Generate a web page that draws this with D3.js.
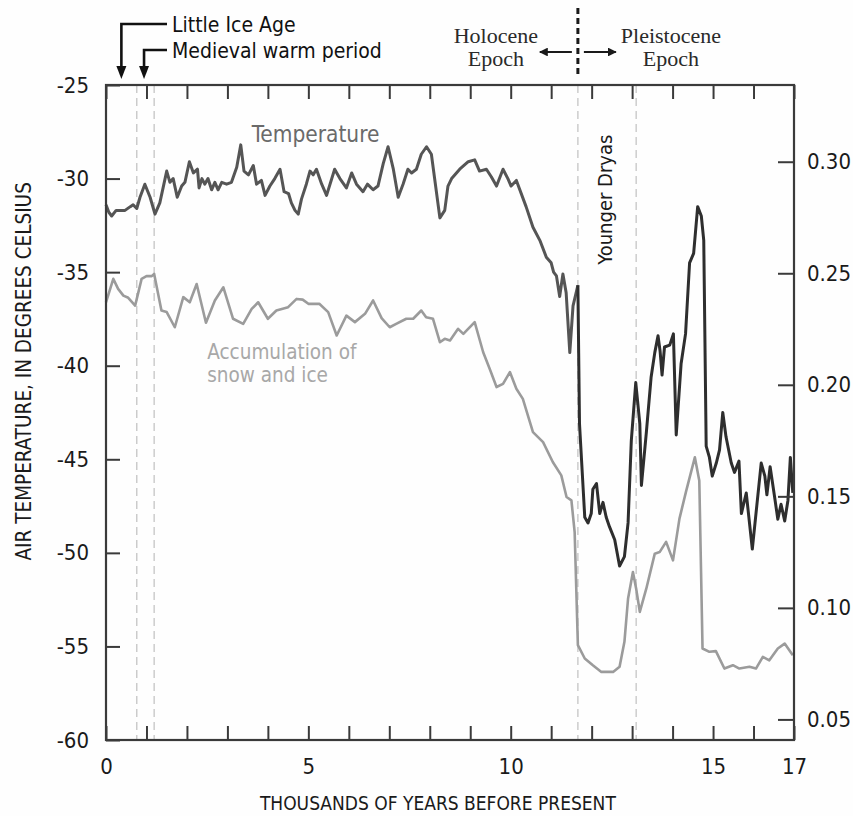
<!DOCTYPE html>
<html>
<head>
<meta charset="utf-8">
<script src="https://cdn.jsdelivr.net/npm/d3@7"></script>
<style>
  html, body { margin: 0; padding: 0; background: #ffffff; }
  svg { display: block; }
  .cond { font-family: "Liberation Sans Narrow", "Arial Narrow", "DejaVu Sans Condensed", sans-serif; }
  .serif { font-family: "Liberation Serif", "Times New Roman", serif; }
</style>
</head>
<body>
<svg id="chart" width="853" height="816"></svg>
<script>
// ---------------- DATA ----------------
// Temperature record (thousands of years before present, °C)
const tempAge = [0.00,0.07,0.14,0.25,0.47,0.60,0.67,0.76,0.84,0.96,1.09,1.21,1.33,1.50,1.58,1.66,1.76,1.87,1.95,2.06,2.16,2.26,2.30,2.37,2.44,2.52,2.61,2.69,2.77,2.86,2.98,3.10,3.23,3.33,3.41,3.52,3.64,3.72,3.84,3.93,4.05,4.17,4.30,4.40,4.51,4.58,4.67,4.75,4.83,4.95,5.04,5.12,5.20,5.33,5.45,5.65,5.78,5.94,6.07,6.19,6.35,6.46,6.60,6.72,6.85,6.97,7.10,7.22,7.34,7.46,7.55,7.67,7.79,7.92,8.04,8.12,8.25,8.37,8.45,8.54,8.74,8.95,9.11,9.23,9.40,9.52,9.65,9.81,9.93,10.01,10.14,10.38,10.55,10.72,10.88,11.00,11.06,11.13,11.21,11.29,11.37,11.46,11.54,11.66,11.70,11.83,11.91,11.99,12.03,12.12,12.20,12.28,12.36,12.44,12.57,12.69,12.81,12.90,12.98,13.09,13.19,13.23,13.35,13.47,13.56,13.64,13.69,13.74,13.80,13.93,14.02,14.09,14.21,14.32,14.42,14.52,14.62,14.71,14.77,14.83,14.91,14.98,15.08,15.16,15.24,15.32,15.45,15.53,15.64,15.70,15.82,15.97,16.07,16.19,16.28,16.33,16.41,16.52,16.60,16.68,16.77,16.85,16.91,16.97];
const tempValue = [-31.4,-31.8,-32.0,-31.7,-31.7,-31.5,-31.4,-31.6,-31.0,-30.3,-31.0,-31.9,-31.3,-29.6,-30.2,-30.0,-31.0,-30.4,-30.2,-29.1,-29.7,-29.5,-30.5,-30.0,-30.3,-30.0,-30.6,-30.2,-30.6,-30.2,-30.3,-30.2,-29.4,-28.2,-29.6,-29.8,-29.3,-30.3,-30.1,-30.9,-30.4,-30.0,-29.5,-30.7,-30.8,-31.3,-31.7,-31.9,-31.1,-30.3,-29.6,-29.8,-29.5,-30.3,-30.9,-29.5,-30.0,-30.5,-29.7,-30.3,-30.7,-30.3,-30.6,-30.4,-29.2,-28.3,-29.5,-31.0,-30.3,-29.5,-29.7,-29.5,-28.7,-28.3,-28.7,-30.0,-32.1,-31.7,-30.4,-30.0,-29.5,-29.1,-29.0,-29.6,-29.5,-29.9,-30.4,-29.5,-30.0,-30.4,-30.1,-31.5,-32.6,-33.3,-34.2,-34.5,-35.0,-35.2,-36.3,-35.1,-36.1,-39.3,-36.8,-35.7,-43.1,-48.1,-48.4,-47.9,-46.6,-46.3,-47.9,-47.3,-48.1,-48.6,-49.3,-50.7,-50.2,-48.4,-44.0,-40.9,-43.1,-46.4,-43.6,-40.6,-39.3,-38.4,-39.2,-40.5,-39.0,-38.9,-38.3,-43.7,-39.9,-38.3,-34.5,-34.0,-31.5,-32.0,-33.3,-44.3,-44.9,-45.9,-45.2,-44.5,-42.5,-43.8,-45.2,-45.7,-45.1,-47.9,-46.8,-49.8,-47.7,-45.2,-45.9,-46.9,-45.4,-47.0,-48.2,-47.4,-48.3,-47.2,-44.9,-46.8];

// Snow and ice accumulation record (right axis)
const accumAge = [0.00,0.18,0.30,0.43,0.55,0.72,0.88,1.00,1.13,1.19,1.37,1.50,1.70,1.91,2.07,2.24,2.47,2.69,2.90,3.14,3.39,3.60,3.76,4.00,4.21,4.50,4.71,4.86,5.00,5.27,5.49,5.70,5.94,6.15,6.40,6.60,6.81,7.01,7.17,7.42,7.59,7.79,7.91,8.08,8.25,8.37,8.50,8.70,8.83,9.11,9.32,9.48,9.65,9.81,9.98,10.14,10.30,10.55,10.80,11.04,11.25,11.38,11.50,11.58,11.66,11.83,12.03,12.24,12.53,12.69,12.81,12.90,13.02,13.10,13.19,13.35,13.56,13.68,13.84,14.01,14.17,14.33,14.55,14.66,14.74,14.91,15.07,15.28,15.49,15.65,15.90,16.06,16.23,16.39,16.60,16.77,16.97];
const accumValue = [0.237,0.2475,0.243,0.240,0.239,0.2355,0.2475,0.2487,0.2487,0.2497,0.2333,0.2326,0.2258,0.2393,0.237,0.2452,0.2278,0.2378,0.2437,0.2296,0.2273,0.234,0.237,0.2296,0.2333,0.2348,0.2385,0.2382,0.2363,0.2363,0.2326,0.2221,0.231,0.2281,0.2318,0.2378,0.2299,0.2258,0.2273,0.2296,0.2296,0.2333,0.2303,0.2296,0.2191,0.2206,0.2199,0.2251,0.2228,0.2281,0.2146,0.2072,0.199,0.2004,0.2057,0.1982,0.1937,0.1788,0.1743,0.1654,0.1594,0.1497,0.1482,0.134,0.0833,0.0773,0.0743,0.0713,0.0713,0.0736,0.0848,0.1042,0.1161,0.1086,0.0982,0.1086,0.1243,0.125,0.1296,0.1213,0.140,0.152,0.1675,0.157,0.0818,0.0803,0.0806,0.0728,0.0743,0.0728,0.0736,0.0728,0.078,0.0765,0.0818,0.084,0.0788];

// Axis ticks / labels
const xTicks = [0,1,2,3,4,5,6,7,8,9,10,11,12,13,14,15,16,17];
const xLabelTicks = [0,5,10,15,17];
const leftTicks = [-25,-30,-35,-40,-45,-50,-55,-60];
const rightTicks = [0.05,0.10,0.15,0.20,0.25,0.30];

// Event markers (ages, thousands of years)
const markerAges = [0.76, 1.19, 11.66, 13.10];
const epochBoundary = 11.66;
const annotations = [
  { label: "Little Ice Age", age: 0.38 },
  { label: "Medieval warm period", age: 0.94 }
];

// ---------------- LAYOUT ----------------
const margin = { left: 106, top: 85 };
const W = 688, H = 655;
const svg = d3.select("#chart");
svg.append("rect").attr("width", 853).attr("height", 816).attr("fill", "#fefefe");
const g = svg.append("g").attr("transform", `translate(${margin.left},${margin.top})`);

const x = d3.scaleLinear().domain([0, 17]).range([0, W]);
const yL = d3.scaleLinear().domain([-60, -25]).range([H, 0]);
const yR = d3.scaleLinear().domain([0.05, 0.30]).range([yL(-58.9), yL(-29.1)]);

// dashed event markers
g.selectAll("line.marker").data(markerAges).join("line")
  .attr("class", "marker")
  .attr("x1", d => x(d)).attr("x2", d => x(d))
  .attr("y1", 0).attr("y2", H)
  .attr("stroke", "#c9c9c9").attr("stroke-width", 1.4)
  .attr("stroke-dasharray", "8,5");

// accumulation line
const accumData = accumAge.map((a, i) => ({ a, v: accumValue[i] }));
g.append("path").datum(accumData)
  .attr("fill", "none").attr("stroke", "#9b9b9b").attr("stroke-width", 2.6)
  .attr("stroke-linejoin", "round")
  .attr("d", d3.line().x(d => x(d.a)).y(d => yR(d.v)));

// temperature line (two tones: Holocene lighter, Pleistocene darker)
const tempData = tempAge.map((a, i) => ({ a, v: tempValue[i] }));
const tLine = d3.line().x(d => x(d.a)).y(d => yL(d.v));
g.append("path").datum(tempData.filter(d => d.a <= epochBoundary))
  .attr("fill", "none").attr("stroke", "#555555").attr("stroke-width", 3)
  .attr("stroke-linejoin", "round").attr("d", tLine);
g.append("path").datum(tempData.filter(d => d.a >= epochBoundary))
  .attr("fill", "none").attr("stroke", "#2e2e2e").attr("stroke-width", 3)
  .attr("stroke-linejoin", "round").attr("d", tLine);

// frame
g.append("rect").attr("width", W).attr("height", H)
  .attr("fill", "none").attr("stroke", "#3a3a3a").attr("stroke-width", 2.2);

function styleAxis(sel) {
  sel.select(".domain").remove();
  sel.selectAll(".tick line").attr("stroke", "#3a3a3a").attr("stroke-width", 2);
  sel.selectAll("text").attr("class", "cond").attr("fill", "#1a1a1a");
}

// bottom axis
g.append("g").attr("transform", `translate(0,${H})`)
  .call(d3.axisBottom(x).tickValues(xTicks).tickSizeInner(-14).tickSizeOuter(0).tickPadding(18)
    .tickFormat(d => xLabelTicks.includes(d) ? String(d) : ""))
  .call(styleAxis)
  .call(s => s.selectAll("text").attr("font-size", 22));

// top axis
g.append("g")
  .call(d3.axisTop(x).tickValues(xTicks).tickSizeInner(-14).tickSizeOuter(0).tickFormat(""))
  .call(styleAxis);

// left axis
g.append("g")
  .call(d3.axisLeft(yL).tickValues(leftTicks).tickSizeInner(-14).tickSizeOuter(0).tickPadding(17)
    .tickFormat(d => String(d)))
  .call(styleAxis)
  .call(s => s.selectAll("text").attr("font-size", 22));

// right axis
g.append("g").attr("transform", `translate(${W},0)`)
  .call(d3.axisRight(yR).tickValues(rightTicks).tickSizeInner(-16).tickSizeOuter(0).tickPadding(13)
    .tickFormat(d => d.toFixed(2)))
  .call(styleAxis)
  .call(s => s.selectAll("text").attr("font-size", 22));

// axis titles
svg.append("text").attr("class", "cond")
  .attr("x", margin.left + x(8.2)).attr("y", 810)
  .attr("text-anchor", "middle").attr("font-size", 19).attr("fill", "#1a1a1a")
  .text("THOUSANDS OF YEARS BEFORE PRESENT");

svg.append("text").attr("class", "cond")
  .attr("transform", `translate(31,${margin.top + yL(-40.3)}) rotate(-90)`)
  .attr("text-anchor", "middle").attr("font-size", 20.5).attr("fill", "#1a1a1a")
  .text("AIR TEMPERATURE, IN DEGREES CELSIUS");

// series labels
g.append("text").attr("class", "cond")
  .attr("x", x(3.6)).attr("y", yL(-28.05))
  .attr("font-size", 22.5).attr("fill", "#6a6a6a").text("Temperature");
g.append("text").attr("class", "cond")
  .attr("x", x(2.5)).attr("y", yL(-39.65))
  .attr("font-size", 20.5).attr("fill", "#a8a8a8").text("Accumulation of");
g.append("text").attr("class", "cond")
  .attr("x", x(2.5)).attr("y", yL(-40.85))
  .attr("font-size", 20.5).attr("fill", "#a8a8a8").text("snow and ice");

// Younger Dryas label
g.append("text").attr("class", "cond")
  .attr("transform", `translate(${x(12.5)},${yL(-34.6)}) rotate(-90)`)
  .attr("font-size", 20).attr("fill", "#1a1a1a").text("Younger Dryas");

// Epoch boundary (above plot)
const xb = margin.left + x(epochBoundary);
svg.append("line").attr("x1", xb).attr("x2", xb).attr("y1", 8).attr("y2", 78)
  .attr("stroke", "#1a1a1a").attr("stroke-width", 3).attr("stroke-dasharray", "6,4");

const defs = svg.append("defs");
defs.append("marker").attr("id", "ah").attr("viewBox", "0 0 10 10")
  .attr("refX", 9).attr("refY", 5).attr("markerWidth", 4).attr("markerHeight", 4)
  .attr("orient", "auto-start-reverse")
  .append("path").attr("d", "M0,0 L10,5 L0,10 z").attr("fill", "#1a1a1a");

svg.append("line").attr("x1", xb - 6).attr("x2", xb - 38).attr("y1", 52).attr("y2", 52)
  .attr("stroke", "#1a1a1a").attr("stroke-width", 2.2).attr("marker-end", "url(#ah)");
svg.append("line").attr("x1", xb + 6).attr("x2", xb + 38).attr("y1", 52).attr("y2", 52)
  .attr("stroke", "#1a1a1a").attr("stroke-width", 2.2).attr("marker-end", "url(#ah)");

const hol = svg.append("text").attr("class", "serif").attr("font-size", 22)
  .attr("fill", "#2a2a2a").attr("text-anchor", "middle");
hol.append("tspan").attr("x", xb - 82).attr("y", 43).text("Holocene");
hol.append("tspan").attr("x", xb - 82).attr("y", 66).text("Epoch");
const ple = svg.append("text").attr("class", "serif").attr("font-size", 22)
  .attr("fill", "#2a2a2a").attr("text-anchor", "middle");
ple.append("tspan").attr("x", xb + 93).attr("y", 43).text("Pleistocene");
ple.append("tspan").attr("x", xb + 93).attr("y", 66).text("Epoch");

// Little Ice Age / Medieval warm period annotations
const annY = [24, 50];
annotations.forEach((a, i) => {
  const ax = margin.left + x(a.age);
  svg.append("path")
    .attr("d", `M${167},${annY[i]} L${ax},${annY[i]} L${ax},${70}`)
    .attr("fill", "none").attr("stroke", "#111").attr("stroke-width", 2.6);
  svg.append("path")
    .attr("d", `M${ax - 5},${66} L${ax + 5},${66} L${ax},${79} z`)
    .attr("fill", "#111");
  svg.append("text").attr("class", "cond")
    .attr("x", 172).attr("y", annY[i] + 8)
    .attr("font-size", 21).attr("fill", "#111").text(a.label);
});
</script>
</body>
</html>
